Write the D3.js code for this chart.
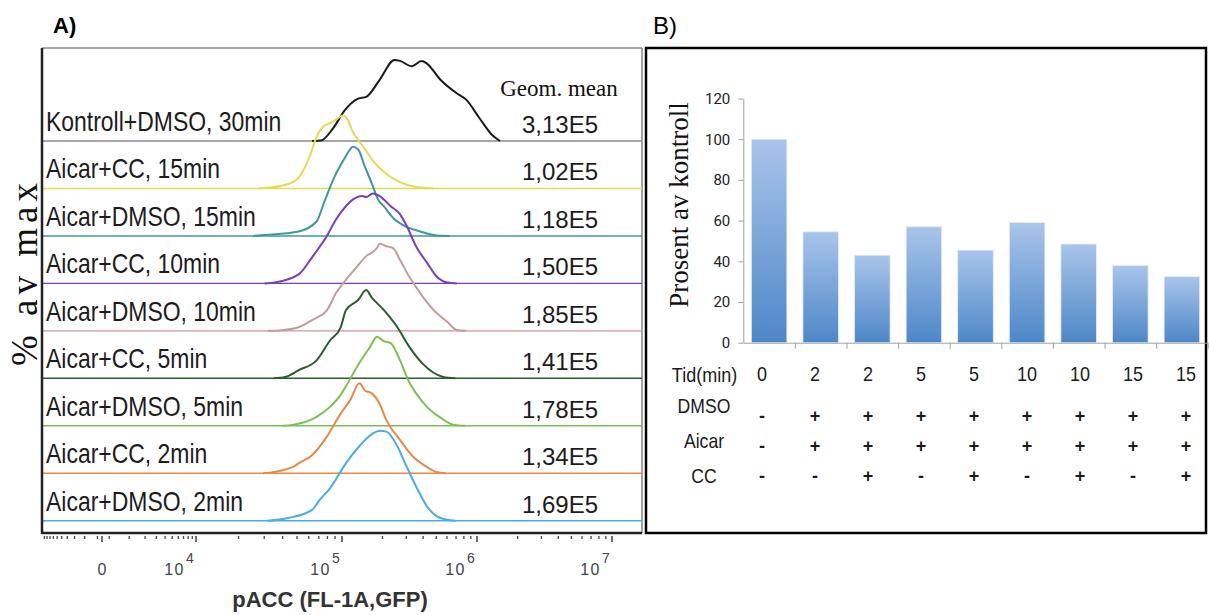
<!DOCTYPE html>
<html>
<head>
<meta charset="utf-8">
<script src="https://cdn.jsdelivr.net/npm/d3@7"></script>
<style>
  body { margin: 0; background: #fff; }
  svg { display: block; }
</style>
</head>
<body>
<div id="container"></div>
<script>
// ---------- panel A: offset flow histograms ----------
const sampleLabels = [
  'Kontroll+DMSO, 30min', 'Aicar+CC, 15min', 'Aicar+DMSO, 15min', 'Aicar+CC, 10min',
  'Aicar+DMSO, 10min', 'Aicar+CC, 5min', 'Aicar+DMSO, 5min', 'Aicar+CC, 2min', 'Aicar+DMSO, 2min'
];
const geomMeans = ['3,13E5', '1,02E5', '1,18E5', '1,50E5', '1,85E5', '1,41E5', '1,78E5', '1,34E5', '1,69E5'];

// [log10(pACC), % of max]
const histKontroll30 = [[4.80, 0], [4.86, 0.5], [4.94, 14], [5.02, 34], [5.12, 47], [5.18, 49], [5.28, 68], [5.39, 90],
  [5.43, 89], [5.52, 83], [5.59, 89], [5.63, 86], [5.73, 68], [5.85, 53], [5.92, 46], [6.02, 25], [6.11, 7], [6.17, 0]];
const histCC15 = [[4.44, 0], [4.51, 1], [4.64, 5], [4.71, 12], [4.78, 34], [4.83, 57], [4.87, 68], [4.94, 74], [5.01, 81],
  [5.04, 77], [5.08, 63], [5.16, 46], [5.23, 31], [5.33, 16], [5.43, 7], [5.55, 1.5], [5.68, 0]];
const histDMSO15 = [[4.40, 0], [4.48, 1], [4.71, 5], [4.83, 16], [4.88, 37], [4.94, 62], [5.01, 84], [5.06, 96], [5.08, 99],
  [5.12, 96], [5.17, 77], [5.22, 59], [5.27, 40], [5.31, 33], [5.38, 20], [5.48, 10], [5.58, 5], [5.70, 0.5], [5.80, 0]];
const histCC10 = [[4.48, 0], [4.55, 1], [4.71, 10], [4.80, 29], [4.90, 53], [4.96, 71], [5.03, 86], [5.08, 93], [5.15, 97],
  [5.18, 96], [5.23, 100], [5.28, 97], [5.36, 86], [5.43, 77], [5.48, 64], [5.55, 41], [5.63, 23], [5.70, 8], [5.78, 1], [5.85, 0]];
const histDMSO10 = [[4.50, 0], [4.58, 0.5], [4.71, 4], [4.80, 12], [4.90, 23], [4.96, 42], [5.03, 57], [5.11, 71], [5.18, 83],
  [5.26, 92], [5.28, 97], [5.33, 94], [5.38, 92], [5.43, 79], [5.50, 60], [5.58, 42], [5.68, 23], [5.78, 10], [5.85, 1], [5.92, 0]];
const histCC5 = [[4.54, 0], [4.62, 1.5], [4.71, 9], [4.83, 20], [4.92, 42], [4.99, 56], [5.03, 76], [5.12, 87], [5.18, 98],
  [5.22, 90], [5.31, 76], [5.41, 57], [5.50, 35], [5.60, 16], [5.75, 1.5], [5.84, 0]];
const histDMSO5 = [[4.60, 0], [4.67, 1], [4.83, 10], [4.92, 21], [4.99, 34], [5.03, 44], [5.13, 70], [5.21, 88], [5.26, 99],
  [5.31, 94], [5.36, 92], [5.43, 73], [5.50, 48], [5.55, 36], [5.63, 21], [5.73, 9], [5.83, 1], [5.91, 0]];
const histCC2 = [[4.47, 0], [4.55, 1.5], [4.67, 7], [4.71, 11], [4.80, 20], [4.90, 41], [4.99, 66], [5.06, 81], [5.13, 100],
  [5.17, 92], [5.22, 89], [5.28, 77], [5.33, 59], [5.43, 37], [5.53, 18], [5.63, 7], [5.70, 1.5], [5.77, 0]];
const histDMSO2 = [[4.50, 0], [4.64, 3], [4.80, 12], [4.85, 23], [4.92, 36], [5.03, 64], [5.13, 83], [5.23, 97], [5.28, 100],
  [5.33, 99], [5.41, 83], [5.48, 60], [5.55, 38], [5.63, 16], [5.70, 5], [5.78, 1], [5.84, 0]];
const histograms = [histKontroll30, histCC15, histDMSO15, histCC10, histDMSO10, histCC5, histDMSO5, histCC2, histDMSO2];

const xTickValues = [0, 1e4, 1e5, 1e6, 1e7];

// ---------- panel B: bars + condition table ----------
const timeLabels = ['0', '2', '2', '5', '5', '10', '10', '15', '15'];
const percentOfControl = [100, 54.5, 43, 57, 45.5, 59, 48.5, 38, 32.5];
const dmsoRow = ['-', '+', '+', '+', '+', '+', '+', '+', '+'];
const aicarRow = ['-', '+', '+', '+', '+', '+', '+', '+', '+'];
const ccRow = ['-', '-', '+', '-', '+', '-', '+', '-', '+'];
const yTicksB = [0, 20, 40, 60, 80, 100, 120];

const sans = 'Liberation Sans, Arial, sans-serif';
const serif = 'Liberation Serif, Times New Roman, serif';

const svg = d3.select('#container').append('svg')
  .attr('width', 1209)
  .attr('height', 615);

/* ===== panel A ===== */
const A = { left: 42, right: 642, top: 48, bottom: 533 };
const gA = svg.append('g').attr('class', 'panel-a');

const x = d3.scaleSymlog().constant(1000)
  .domain([-1e4, 0, 1e4, 1e5, 1e6, 1e7])
  .range([A.left, 102, 196, 342, 477, 612]);
const row = d3.scalePoint().domain(sampleLabels).range([141, 520.7]);
const h = d3.scaleLinear().domain([0, 100]).range([0, 90]);
const color = d3.scaleOrdinal().domain(sampleLabels)
  .range(['#1a1a1a', '#e2da58', '#3e979e', '#7a3fb8', '#c29c9b', '#2e5b2e', '#7dbf55', '#e58a48', '#4aaee0']);

const histLine = d3.line()
  .x((d) => x(Math.pow(10, d[0])))
  .y((d) => -h(d[1]))
  .curve(d3.curveMonotoneX);

gA.append('text')
  .attr('x', 53).attr('y', 33)
  .attr('font-family', sans).attr('font-weight', 'bold').attr('font-size', 22)
  .text('A)');

/* frame */
gA.append('line').attr('x1', A.left).attr('x2', A.right).attr('y1', A.top).attr('y2', A.top)
  .attr('stroke', '#8a8a8a').attr('stroke-width', 1.5);
gA.append('line').attr('x1', A.right).attr('x2', A.right).attr('y1', A.top).attr('y2', A.bottom)
  .attr('stroke', '#666').attr('stroke-width', 1.2);

const rows = gA.selectAll('.sample')
  .data(sampleLabels.map((label, i) => ({ label, mean: geomMeans[i], hist: histograms[i], i })))
  .join('g')
  .attr('class', 'sample')
  .attr('transform', (d) => `translate(0,${row(d.label)})`);

rows.append('line')
  .attr('x1', A.left).attr('x2', A.right)
  .attr('stroke', (d) => d.i === 0 ? '#8a8a8a' : color(d.label))
  .attr('stroke-width', 1.4);

rows.append('path')
  .attr('d', (d) => histLine(d.hist))
  .attr('fill', 'none')
  .attr('stroke', (d) => color(d.label))
  .attr('stroke-width', 2);

rows.append('text')
  .attr('transform', 'translate(46,-10) scale(0.82,1)')
  .attr('font-family', sans).attr('font-size', 28).attr('fill', '#1c1c1c')
  .text((d) => d.label);

rows.append('text')
  .attr('x', 560).attr('y', -8)
  .attr('text-anchor', 'middle')
  .attr('font-family', sans).attr('font-size', 24).attr('fill', '#1c1c1c')
  .text((d) => d.mean);

gA.append('text')
  .attr('x', 559).attr('y', 96)
  .attr('text-anchor', 'middle')
  .attr('font-family', serif).attr('font-size', 23).attr('fill', '#111')
  .text('Geom. mean');

/* left border and x axis */
gA.append('line').attr('x1', A.left).attr('x2', A.left).attr('y1', A.top).attr('y2', A.bottom + 1)
  .attr('stroke', '#222').attr('stroke-width', 2.5);
gA.append('line').attr('x1', A.left).attr('x2', A.right).attr('y1', A.bottom).attr('y2', A.bottom)
  .attr('stroke', '#222').attr('stroke-width', 2.5);

const minorTicks = [-200, 200];
d3.range(1, 10).forEach((m) => {
  minorTicks.push(-m * 1e3, m * 1e3);
  [1e4, 1e5, 1e6].forEach((k) => { if (m > 1) minorTicks.push(m * k); });
});

const axisA = gA.append('g').attr('class', 'x-axis-a');
axisA.selectAll('.minor')
  .data(minorTicks.filter((v) => x(v) > A.left + 1 && x(v) < A.right))
  .join('line')
  .attr('class', 'minor')
  .attr('x1', (d) => x(d)).attr('x2', (d) => x(d))
  .attr('y1', A.bottom + 3).attr('y2', A.bottom + 6)
  .attr('stroke', '#444').attr('stroke-width', 1.3);
axisA.selectAll('.major')
  .data(xTickValues)
  .join('line')
  .attr('class', 'major')
  .attr('x1', (d) => x(d)).attr('x2', (d) => x(d))
  .attr('y1', A.bottom + 3).attr('y2', A.bottom + 9)
  .attr('stroke', '#333').attr('stroke-width', 1.4);

const tickLabels = axisA.selectAll('.tick-label')
  .data(xTickValues)
  .join('g')
  .attr('class', 'tick-label')
  .attr('font-family', sans).attr('fill', '#444');
tickLabels.append('text')
  .attr('x', (d) => d === 0 ? x(d) : x(d) - 11)
  .attr('y', 575)
  .attr('text-anchor', (d) => d === 0 ? 'middle' : 'end')
  .attr('font-size', 16)
  .attr('letter-spacing', (d) => d === 0 ? 0 : 1.5)
  .text((d) => d === 0 ? '0' : '10');
tickLabels.filter((d) => d > 0).append('text')
  .attr('x', (d) => x(d) - 10)
  .attr('y', 563)
  .attr('font-size', 14)
  .text((d) => Math.round(Math.log10(d)));

gA.append('text')
  .attr('x', 330).attr('y', 607)
  .attr('text-anchor', 'middle')
  .attr('font-family', sans).attr('font-weight', 'bold').attr('font-size', 22).attr('fill', '#333')
  .text('pACC (FL-1A,GFP)');

gA.append('text')
  .attr('transform', 'translate(37,272) rotate(-90)')
  .attr('text-anchor', 'middle')
  .attr('font-family', serif).attr('font-size', 37).attr('letter-spacing', 5).attr('fill', '#111')
  .text('% av max');

/* ===== panel B ===== */
const gB = svg.append('g').attr('class', 'panel-b');

gB.append('text')
  .attr('x', 653).attr('y', 34)
  .attr('font-family', sans).attr('font-size', 24)
  .text('B)');

gB.append('rect')
  .attr('x', 646).attr('y', 48)
  .attr('width', 560).attr('height', 485)
  .attr('fill', 'none').attr('stroke', '#000').attr('stroke-width', 2.5);

const defs = svg.append('defs');
const grad = defs.append('linearGradient')
  .attr('id', 'barGrad').attr('x1', 0).attr('x2', 0).attr('y1', 0).attr('y2', 1);
grad.append('stop').attr('offset', '0%').attr('stop-color', '#a9c5ea');
grad.append('stop').attr('offset', '100%').attr('stop-color', '#4d87c8');

const xb = d3.scaleBand().domain(d3.range(percentOfControl.length))
  .range([743.3, 1207.7]).paddingInner(0.31).paddingOuter(0.155);
const yb = d3.scaleLinear().domain([0, 120]).range([342.7, 98.5]);

gB.selectAll('.bar')
  .data(percentOfControl)
  .join('rect')
  .attr('class', 'bar')
  .attr('x', (d, i) => xb(i))
  .attr('y', (d) => yb(d))
  .attr('width', xb.bandwidth())
  .attr('height', (d) => yb(0) - yb(d))
  .attr('fill', 'url(#barGrad)')
  .attr('stroke', '#e8eef8').attr('stroke-width', 0.8);

const yAxisB = gB.append('g')
  .attr('transform', `translate(${xb.range()[0]},0)`)
  .call(d3.axisLeft(yb).tickValues(yTicksB).tickSize(5).tickSizeOuter(0).tickPadding(8));
yAxisB.select('.domain').attr('stroke', '#a0a0a0');
yAxisB.selectAll('.tick line').attr('stroke', '#a0a0a0');
yAxisB.selectAll('.tick text')
  .attr('font-family', 'Roboto, sans-serif').attr('font-size', 15).attr('fill', '#222');

const xbEdges = d3.scaleLinear().domain([0, percentOfControl.length]).range(xb.range());
const xAxisB = gB.append('g')
  .attr('transform', `translate(0,${yb(0)})`)
  .call(d3.axisBottom(xbEdges).tickValues(d3.range(1, percentOfControl.length + 1))
    .tickFormat('').tickSize(6).tickSizeOuter(0));
xAxisB.select('.domain').attr('stroke', '#a0a0a0');
xAxisB.selectAll('.tick line').attr('stroke', '#a0a0a0');

gB.append('text')
  .attr('transform', 'translate(688,205) rotate(-90)')
  .attr('text-anchor', 'middle')
  .attr('font-family', serif).attr('font-size', 27).attr('fill', '#111')
  .text('Prosent av kontroll');

/* condition table */
const tx = d3.scalePoint().domain(d3.range(timeLabels.length)).range([762, 1186]);
const symRow = d3.scalePoint().domain(['DMSO', 'Aicar', 'CC']).range([416, 476]);
const labelRow = d3.scalePoint().domain(['DMSO', 'Aicar', 'CC']).range([413, 483]);

const table = gB.append('g').attr('font-family', sans).attr('fill', '#1a1a1a');

table.append('text')
  .attr('transform', 'translate(704.5,381.5) scale(0.9,1)')
  .attr('text-anchor', 'middle').attr('font-size', 20)
  .text('Tid(min)');
table.selectAll('.tid')
  .data(timeLabels)
  .join('text')
  .attr('class', 'tid')
  .attr('transform', (d, i) => `translate(${tx(i)},381) scale(0.9,1)`)
  .attr('text-anchor', 'middle').attr('font-size', 20)
  .text((d) => d);

const condRows = [['DMSO', dmsoRow], ['Aicar', aicarRow], ['CC', ccRow]];
condRows.forEach(([name, vals]) => {
  table.append('text')
    .attr('transform', `translate(704,${labelRow(name)}) scale(0.88,1)`)
    .attr('text-anchor', 'middle').attr('font-size', 20)
    .text(name);
  table.selectAll(`.sym-${name}`)
    .data(vals)
    .join('text')
    .attr('class', `sym-${name}`)
    .attr('x', (d, i) => tx(i))
    .attr('y', symRow(name))
    .attr('dominant-baseline', 'central')
    .attr('text-anchor', 'middle')
    .attr('font-weight', 'bold').attr('font-size', 18)
    .text((d) => d);
});
</script>
</body>
</html>
